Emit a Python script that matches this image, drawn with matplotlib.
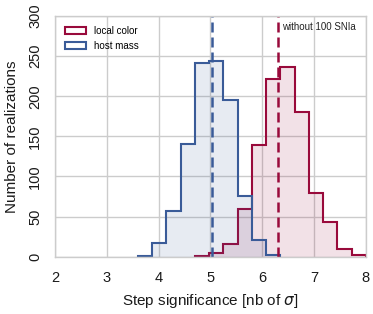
import numpy as np
import matplotlib
matplotlib.use("Agg")
import matplotlib.pyplot as plt
from matplotlib.patches import Patch

plt.rcParams['font.family'] = ['Liberation Sans', 'DejaVu Sans']
plt.rcParams['mathtext.fontset'] = 'dejavusans'

# common bin edges
edges = np.linspace(2.5, 8.0, 21)

# counts per bin
host_mass = [0, 0, 0, 0, 1, 17, 57, 141, 241, 244, 195, 76, 21, 2, 0, 0, 0, 0, 0, 0]
local_color = [0, 0, 0, 0, 0, 0, 0, 0, 1, 5, 16, 60, 139, 222, 237, 180, 80, 43, 10, 2]

mass_ref = 5.04
color_ref = 6.31

blue = "#3a5b98"
red = "#990a3b"

fig = plt.figure(figsize=(3.73, 3.14), dpi=100)
ax = fig.add_axes([0.147, 0.1825, 0.834, 0.7665])


def draw(counts, color):
    c = np.asarray(counts)
    nz = np.nonzero(c)[0]
    i0, i1 = nz[0], nz[-1] + 1
    ax.stairs(c[i0:i1], edges[i0:i1 + 1], fill=True, color=color, alpha=0.12, lw=0)
    ax.stairs(c[i0:i1], edges[i0:i1 + 1], color=color, lw=1.5)


draw(local_color, red)
draw(host_mass, blue)

ax.axvline(mass_ref, color=blue, ls=(0, (4, 2)), lw=1.8)
ax.axvline(color_ref, color=red, ls=(0, (4, 2)), lw=1.8)
ax.text(6.38, 286, "without 100 SNIa", fontsize=7, va="center", color="#222222")

ax.set_xlim(2, 8)
ax.set_ylim(0, 300)
ax.set_xticks(range(2, 9))
ax.set_yticks(range(0, 301, 50))
ax.grid(True, color="#cccccc", lw=1)
ax.set_axisbelow(True)
for s in ax.spines.values():
    s.set_color("#cccccc")
    s.set_linewidth(1)
ax.tick_params(length=0, labelsize=10.5, labelcolor="#1a1a1a")
ax.tick_params(axis="x", pad=10)
ax.tick_params(axis="y", pad=9)
for lab in ax.get_yticklabels():
    lab.set_rotation(90)
    lab.set_va("center")

ax.set_xlabel(r"Step significance [nb of $\sigma$]", fontsize=11, labelpad=5, color="#1a1a1a")
ax.set_ylabel("Number of realizations", fontsize=11, labelpad=7, color="#1a1a1a")

handles = [Patch(facecolor="white", edgecolor=red, lw=1.5, label="local color"),
           Patch(facecolor="white", edgecolor=blue, lw=1.5, label="host mass")]
ax.legend(handles=handles, loc="upper left", frameon=False, fontsize=7,
          handlelength=2.2, handleheight=0.8, labelspacing=0.55, borderaxespad=0.6)

fig.savefig("out.png", dpi=100)
